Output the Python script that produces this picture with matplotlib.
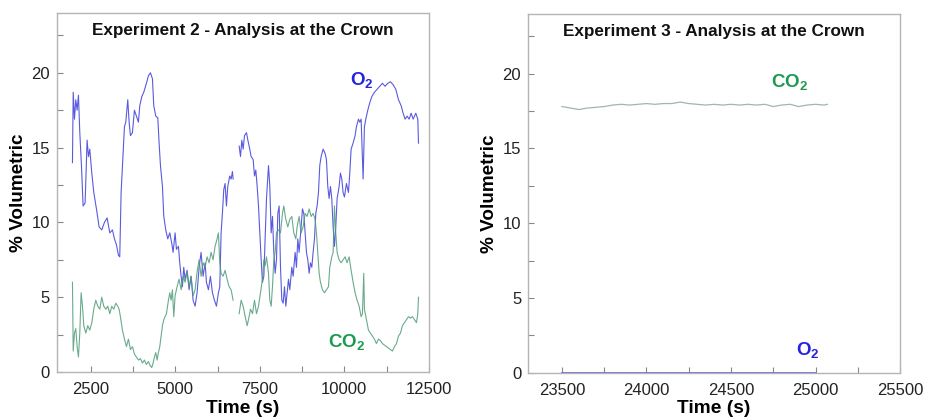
import numpy as np
import matplotlib
matplotlib.use("Agg")
import matplotlib.pyplot as plt
from matplotlib.ticker import MultipleLocator

plt.rcParams['font.family'] = ['Liberation Sans', 'DejaVu Sans']
plt.rcParams['mathtext.fontset'] = 'custom'
plt.rcParams['mathtext.rm'] = 'Liberation Sans'
plt.rcParams['mathtext.bf'] = 'Liberation Sans:bold'

# Experiment 2 - O2 trace (time s, % volumetric); NaN marks the gap in the record
exp2_o2_t = [1958, 1980, 2017, 2056, 2096, 2135, 2175, 2224, 2273, 2332, 2391, 2431, 2470, 2530,
             2589, 2668, 2746, 2825, 2904, 2983, 3062, 3141, 3200, 3259, 3318, 3357, 3397, 3456,
             3496, 3535, 3594, 3634, 3673, 3732, 3791, 3851, 3910, 3949, 4008, 4067, 4146, 4205,
             4265, 4324, 4363, 4422, 4482, 4521, 4561, 4620, 4659, 4718, 4777, 4837, 4896, 4935,
             4994, 5034, 5093, 5132, 5172, 5211, 5250, 5290, 5349, 5408, 5467, 5526, 5586, 5645,
             5704, 5763, 5822, 5882, 5921, 5980, 6039, 6098, 6158, 6217, 6276, 6316, 6355, 6394,
             6434, 6473, 6513, 6552, 6611, 6651, 6690, 6710, 6800, 6889, 6929, 6968, 7008, 7047,
             7106, 7146, 7185, 7244, 7303, 7343, 7382, 7422, 7461, 7500, 7540, 7579, 7619, 7658,
             7698, 7757, 7796, 7836, 7875, 7915, 7954, 7993, 8033, 8072, 8112, 8151, 8190, 8230,
             8269, 8308, 8348, 8387, 8446, 8486, 8545, 8584, 8624, 8663, 8722, 8762, 8801, 8841,
             8880, 8920, 8959, 8998, 9038, 9077, 9117, 9156, 9195, 9235, 9274, 9314, 9373, 9432,
             9471, 9511, 9550, 9590, 9629, 9669, 9708, 9747, 9787, 9846, 9885, 9925, 9964, 10004,
             10063, 10122, 10162, 10201, 10260, 10319, 10359, 10418, 10457, 10497, 10556, 10595,
             10635, 10694, 10753, 10812, 10891, 10970, 11049, 11128, 11207, 11286, 11365, 11444,
             11523, 11602, 11681, 11740, 11799, 11858, 11917, 11977, 12036, 12115, 12174, 12194]
exp2_o2 = [14.0, 18.7, 16.9, 18.2, 17.5, 18.5, 16.0, 13.8, 11.1, 11.3, 15.5, 14.4, 14.9, 13.3,
           12.0, 10.9, 9.7, 9.5, 10.0, 10.3, 9.3, 9.5, 8.9, 8.5, 7.8, 7.7, 12.0, 14.6,
           16.4, 16.7, 18.2, 16.7, 15.8, 16.0, 17.5, 17.1, 16.7, 17.8, 18.4, 18.7, 19.3, 19.8,
           20.0, 19.6, 17.8, 17.1, 17.0, 15.3, 13.8, 12.4, 10.4, 9.5, 8.9, 9.3, 8.6, 8.0,
           9.3, 8.2, 8.4, 7.3, 6.4, 5.7, 7.0, 6.2, 6.8, 5.5, 6.4, 4.8, 4.4, 5.3,
           7.0, 8.0, 6.4, 7.3, 6.0, 5.5, 6.4, 5.3, 4.8, 4.4, 5.3, 5.7, 9.3, 10.6,
           12.2, 12.6, 11.1, 12.4, 13.1, 12.9, 13.4, 12.9, np.nan, 15.1, 14.4, 15.5, 14.9, 15.8,
           16.0, 15.5, 15.1, 14.4, 14.2, 13.1, 13.5, 12.4, 11.1, 9.3, 7.5, 6.0, 6.4, 8.9,
           11.6, 13.8, 12.4, 9.3, 10.4, 8.0, 6.6, 7.5, 10.6, 11.1, 7.0, 4.8, 4.6, 5.7,
           4.4, 5.3, 6.2, 5.5, 7.0, 6.4, 8.0, 7.0, 8.9, 8.0, 9.7, 10.9, 10.6, 9.3,
           8.0, 7.5, 6.6, 7.3, 7.0, 8.0, 8.9, 10.6, 11.1, 12.0, 13.8, 14.4, 14.9, 14.6,
           14.2, 12.4, 11.6, 12.4, 11.6, 9.7, 8.4, 9.7, 11.6, 12.4, 13.3, 12.9, 12.0, 11.7,
           12.6, 12.0, 13.3, 14.9, 15.3, 15.8, 16.4, 16.9, 16.7, 16.9, 12.9, 16.4,
           16.9, 17.5, 18.0, 18.4, 18.7, 18.9, 19.1, 19.3, 19.1, 19.3, 19.4, 19.2,
           18.9, 18.2, 17.8, 17.3, 16.9, 17.1, 16.9, 17.3, 16.9, 17.3, 16.9, 15.3]

# Experiment 2 - CO2 trace
exp2_co2_t = [1958, 1980, 2017, 2056, 2096, 2135, 2175, 2214, 2254, 2293, 2352, 2411, 2470, 2530,
              2589, 2648, 2707, 2766, 2825, 2884, 2944, 3003, 3062, 3121, 3180, 3239, 3298, 3338,
              3377, 3436, 3496, 3555, 3614, 3673, 3732, 3791, 3851, 3910, 3969, 4028, 4087, 4146,
              4205, 4265, 4304, 4343, 4383, 4422, 4462, 4501, 4541, 4580, 4620, 4659, 4698, 4738,
              4797, 4837, 4876, 4915, 4955, 4994, 5053, 5112, 5172, 5231, 5290, 5349, 5408, 5467,
              5526, 5586, 5645, 5704, 5763, 5822, 5882, 5941, 6000, 6059, 6118, 6177, 6237, 6276,
              6316, 6355, 6414, 6473, 6532, 6592, 6651, 6710, 6800, 6889, 6948, 7008, 7067, 7126,
              7165, 7224, 7284, 7343, 7402, 7461, 7520, 7579, 7619, 7658, 7698, 7757, 7796, 7836,
              7875, 7915, 7954, 7993, 8053, 8112, 8171, 8210, 8269, 8328, 8387, 8446, 8505, 8565,
              8604, 8663, 8722, 8781, 8841, 8900, 8959, 9018, 9077, 9136, 9176, 9215, 9255, 9294,
              9353, 9413, 9472, 9531, 9570, 9629, 9669, 9708, 9747, 9787, 9846, 9905, 9964, 10023,
              10082, 10142, 10201, 10260, 10319, 10378, 10438, 10497, 10536, 10575, 10595, 10654,
              10714, 10773, 10832, 10891, 10950, 11009, 11068, 11128, 11187, 11246, 11305, 11365,
              11424, 11483, 11542, 11602, 11661, 11720, 11779, 11838, 11898, 11957, 12016, 12075,
              12134, 12174, 12194]
exp2_co2 = [6.0, 1.4, 2.6, 2.9, 1.7, 1.0, 2.6, 5.3, 4.4, 3.1, 2.6, 3.1, 2.8, 3.3,
            4.2, 4.8, 4.4, 4.2, 5.0, 4.4, 4.2, 4.4, 3.9, 4.4, 4.2, 4.6, 4.4, 4.2,
            3.7, 2.8, 2.2, 1.7, 2.2, 1.5, 1.7, 1.2, 1.0, 0.8, 0.9, 0.6, 0.8, 0.5,
            0.7, 0.4, 0.3, 0.6, 1.0, 1.3, 0.8, 1.3, 1.7, 2.4, 3.1, 3.5, 3.7, 3.9,
            4.8, 5.3, 4.8, 5.5, 3.7, 5.1, 5.7, 6.2, 5.5, 6.4, 6.0, 6.7, 5.7, 6.4,
            5.1, 5.5, 6.7, 7.5, 6.4, 7.3, 7.0, 7.7, 7.3, 8.0, 7.5, 8.4, 8.9, 9.3,
            7.3, 6.6, 6.4, 6.8, 6.2, 5.7, 5.5, 4.8, np.nan, 3.9, 4.8, 4.4, 3.7, 3.1,
            3.5, 4.2, 3.9, 4.8, 3.9, 4.4, 5.3, 6.2, 7.5, 7.1, 7.7, 6.6, 4.8, 4.4,
            5.7, 7.5, 8.0, 9.3, 9.5, 9.3, 10.6, 11.1, 10.2, 9.7, 10.2, 10.4, 9.3, 8.9,
            9.7, 10.4, 9.3, 9.7, 10.6, 10.4, 10.9, 10.4, 10.6, 10.2, 9.3, 8.0, 6.6, 6.0,
            5.5, 5.3, 5.5, 5.7, 7.0, 7.7, 8.0, 11.1, 9.3, 8.0, 7.5, 7.3, 7.5, 7.7,
            7.3, 7.7, 6.8, 6.0, 5.3, 4.8, 4.4, 3.7, 3.9, 6.6, 4.2, 3.5,
            2.8, 2.6, 2.4, 2.2, 1.9, 2.2, 2.1, 1.9, 1.8, 1.7, 1.6, 1.5,
            1.4, 1.7, 1.9, 2.4, 2.6, 3.1, 3.3, 3.5, 3.7, 3.6, 3.7, 3.5,
            3.3, 3.9, 5.0]

# Experiment 3
exp3_co2_t = [23500, 23550, 23600, 23650, 23700, 23750, 23800, 23850, 23900, 23950, 24000,
              24050, 24100, 24150, 24200, 24250, 24300, 24350, 24400, 24450, 24500, 24550,
              24600, 24650, 24700, 24750, 24800, 24850, 24900, 24950, 25000, 25050, 25070]
exp3_co2 = [17.8, 17.7, 17.6, 17.7, 17.75, 17.8, 17.9, 17.95, 17.9, 17.95, 18.0,
            17.95, 18.0, 18.0, 18.1, 18.0, 17.95, 17.9, 17.95, 17.9, 17.95, 17.9,
            17.95, 17.9, 17.95, 17.8, 17.9, 17.95, 17.8, 17.9, 17.95, 17.9, 17.95]
exp3_o2_t = [23500, 24000, 24500, 25000]
exp3_o2 = [0.0, 0.0, 0.0, 0.0]

o2_line = '#5a5ae0'
co2_line = '#4f9c78'
o2_text = '#2323e0'
co2_text = '#1c9a52'
spine_col = '#b4b4b4'


def style_axes(ax, title, xlim, xmajor):
    ax.set_xlim(*xlim)
    ax.set_ylim(0, 24)
    ax.xaxis.set_major_locator(MultipleLocator(xmajor))
    ax.xaxis.set_minor_locator(MultipleLocator(xmajor / 2))
    ax.yaxis.set_major_locator(MultipleLocator(5))
    ax.yaxis.set_minor_locator(MultipleLocator(2.5))
    ax.tick_params(which='both', direction='in', length=4, width=0.8,
                   color='#888888', labelsize=12, labelcolor='#222222')
    ax.tick_params(axis='x', which='both', pad=7)
    ax.tick_params(axis='y', which='both', pad=5)
    for sp in ax.spines.values():
        sp.set_color(spine_col)
        sp.set_linewidth(1.0)
    ax.set_xlabel('Time (s)', fontsize=13.8, fontweight='bold', labelpad=2)
    ax.set_ylabel('% Volumetric', fontsize=13.6, fontweight='bold', labelpad=3)
    ax.text(0.5, 0.952, title, transform=ax.transAxes, ha='center', va='center',
            fontsize=12.3, fontweight='bold', color='#111111')


fig = plt.figure(figsize=(9.25, 4.18), dpi=100)
ax1 = fig.add_axes([0.0616, 0.110, 0.402, 0.859])
ax2 = fig.add_axes([0.571, 0.108, 0.402, 0.859])

ax1.plot(exp2_o2_t, exp2_o2, color=o2_line, lw=0.8)
ax1.plot(exp2_co2_t, exp2_co2, color=co2_line, lw=0.8, alpha=0.85)
style_axes(ax1, 'Experiment 2 - Analysis at the Crown', (1500, 12500), 2500)
ax1.text(10524, 19.5, r'$\mathbf{O_2}$', color=o2_text, fontsize=13.5, ha='center', va='center')
ax1.text(10080, 2.0, r'$\mathbf{CO_2}$', color=co2_text, fontsize=13.5, ha='center', va='center')

ax2.plot(exp3_co2_t, exp3_co2, color='#9fb8aa', lw=0.9)
ax2.plot(exp3_o2_t, exp3_o2, color=o2_line, lw=1.2, clip_on=False)
style_axes(ax2, 'Experiment 3 - Analysis at the Crown', (23300, 25500), 500)
ax2.text(24846, 19.45, r'$\mathbf{CO_2}$', color=co2_text, fontsize=13.5, ha='center', va='center')
ax2.text(24952, 1.55, r'$\mathbf{O_2}$', color=o2_text, fontsize=13.5, ha='center', va='center')

fig.savefig('out.png', dpi=100)
